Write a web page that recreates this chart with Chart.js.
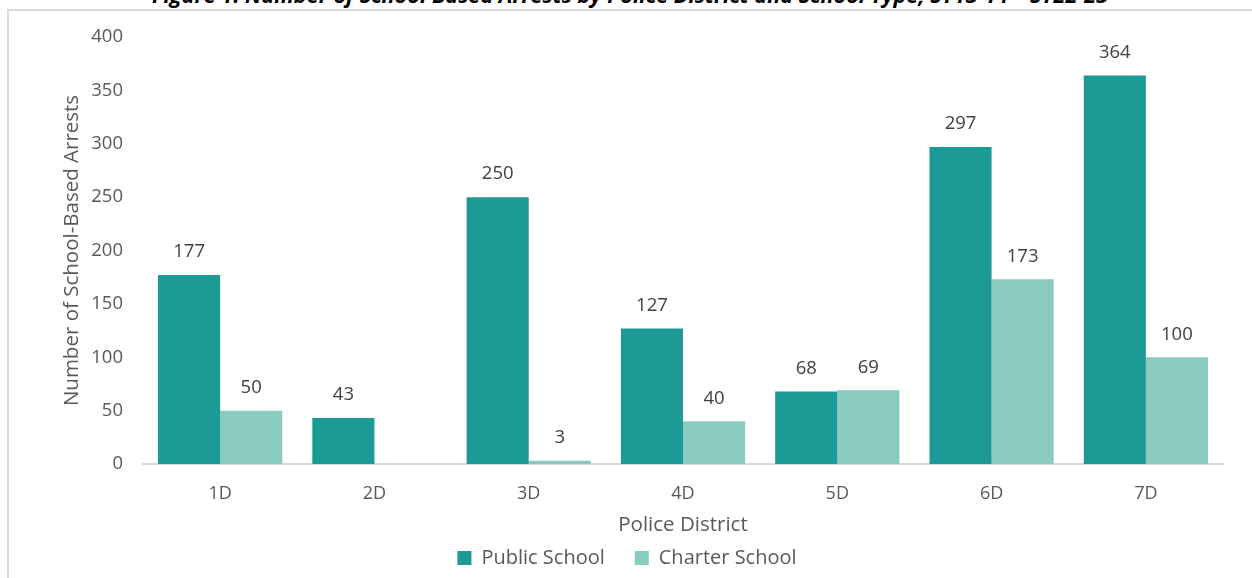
<!DOCTYPE html>
<html>
<head>
<meta charset="utf-8">
<script src="https://cdn.jsdelivr.net/npm/chart.js@4.4.1/dist/chart.umd.min.js"></script>
<style>
  html, body { margin: 0; padding: 0; background: #fff; overflow: hidden; }
  #wrap { position: relative; width: 1252px; height: 578px; overflow: hidden; }
  #frame { position: absolute; left: 7px; top: 9px; width: 1300px; height: 700px;
           border-left: 2px solid #d9d9d9; border-top: 2px solid #d9d9d9; box-sizing: border-box; }
  #caption { position: absolute; left: 0; width: 1260px; top: -20px; line-height: 24px; text-align: center;
             font: italic bold 21.6px "Open Sans", sans-serif; color: #000; white-space: nowrap; }
  #chart { position: absolute; left: 0; top: 0; }
</style>
</head>
<body>
<div id="wrap">
  <div id="caption">Figure 1: Number of School Based Arrests by Police District and School Type, SY13-14 – SY22-23</div>
  <div id="frame"></div>
  <canvas id="chart" width="1252" height="578"></canvas>
</div>
<script>
var districts = ["1D", "2D", "3D", "4D", "5D", "6D", "7D"];
var publicSchool = [177, 43, 250, 127, 68, 297, 364];
var charterSchool = [50, null, 3, 40, 69, 173, 100];
var yTicks = [0, 50, 100, 150, 200, 250, 300, 350, 400];

var grey = "#595959";
var font = "'Open Sans', sans-serif";

// writes each bar's value just above it
var barValues = {
  id: "barValues",
  afterDatasetsDraw: function(chart) {
    var ctx = chart.ctx;
    ctx.save();
    ctx.font = "18.5px " + font;
    ctx.fillStyle = "#404040";
    ctx.textAlign = "center";
    ctx.textBaseline = "middle";
    chart.data.datasets.forEach(function(ds, i) {
      chart.getDatasetMeta(i).data.forEach(function(bar, j) {
        var v = ds.data[j];
        if (v === null) return;
        ctx.fillText(String(v), bar.x, bar.y - 23);
      });
    });
    ctx.restore();
  }
};

new Chart(document.getElementById("chart").getContext("2d"), {
  type: "bar",
  data: {
    labels: districts,
    datasets: [
      { label: "Public School", data: publicSchool, backgroundColor: "#1c9a96",
        categoryPercentage: 0.805, barPercentage: 1 },
      { label: "Charter School", data: charterSchool, backgroundColor: "#89cbbf",
        categoryPercentage: 0.805, barPercentage: 1 }
    ]
  },
  options: {
    responsive: false,
    animation: false,
    layout: { padding: { left: 31, right: 29, top: 37, bottom: 0 } },
    plugins: {
      tooltip: { enabled: false },
      legend: {
        position: "bottom",
        labels: {
          color: grey,
          boxWidth: 14,
          boxHeight: 14,
          padding: 30,
          font: { family: font, size: 20 }
        }
      }
    },
    scales: {
      x: {
        afterFit: function(scale) { scale.height = 54; },
        grid: { display: false, drawTicks: false },
        border: { display: true, color: "#d9d9d9", width: 2 },
        ticks: { color: grey, padding: 19, font: { family: font, size: 18 } },
        title: { display: true, text: "Police District", color: grey,
                 padding: { top: 0, bottom: -19 },
                 font: { family: font, size: 20.5 } }
      },
      y: {
        min: 0,
        max: 400,
        afterBuildTicks: function(scale) {
          scale.ticks = yTicks.map(function(v) { return { value: v }; });
        },
        afterFit: function(scale) { scale.width = 112; },
        grid: { display: false, drawTicks: false },
        border: { display: false },
        ticks: { color: grey, padding: 20, font: { family: font, size: 18.5 } },
        title: { display: true, text: "Number of School-Based Arrests", color: grey,
                 padding: { top: 29, bottom: 4 },
                 font: { family: font, size: 20.5 } }
      }
    }
  },
  plugins: [barValues]
});
</script>
</body>
</html>
